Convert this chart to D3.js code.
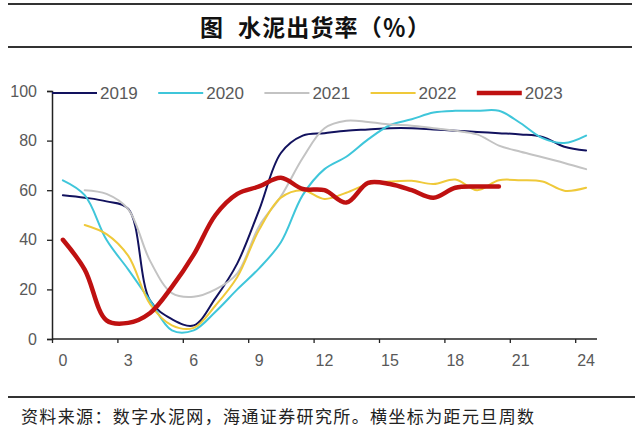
<!DOCTYPE html>
<html>
<head>
<meta charset="utf-8">
<script src="https://cdn.jsdelivr.net/npm/d3@7"></script>
<style>
  html, body { margin: 0; padding: 0; background: #fff; }
  svg { display: block; }
</style>
</head>
<body>
<svg id="chart" width="640" height="430"></svg>
<script>
// ---- data ----
const weeks = d3.range(0, 25);
const xTickLabels = [0, 3, 6, 9, 12, 15, 18, 21, 24];
const yTickLabels = [0, 20, 40, 60, 80, 100];
const seriesNames = ["2019", "2020", "2021", "2022", "2023"];
const s2019 = [58, 57, 55.5, 52.5, 15.5, 8, 5.5, 16.5, 30.5, 52, 75, 82, 83, 84, 84.5, 85, 85, 84.5, 84, 83.5, 83, 82.5, 81.5, 77.5, 76];
const s2020 = [64, 58, 40, 28, 15.5, 3.5, 3.5, 11, 20, 28.5, 39, 58, 68.5, 73.5, 80.5, 86.2, 88.6, 91.3, 92, 92, 92, 87, 81, 79, 82];
const s2021 = [null, 60, 58.5, 52.3, 31.5, 18.5, 17, 20, 26.5, 45.5, 57.5, 73, 85, 88, 87.5, 86.5, 86, 85, 84, 82.5, 78, 75.5, 73.3, 71, 68.5];
const s2022 = [null, 46, 42.3, 33.5, 14, 5.5, 4.5, 13.5, 25, 44, 57, 60, 56.5, 59, 62.5, 63.5, 63.8, 62.5, 64.3, 60, 64, 64, 63.5, 59.8, 61];
const s2023 = [40, 28, 7.5, 6.5, 10.5, 21, 34, 50, 58.5, 61.5, 65, 60.5, 60, 55, 63, 62.5, 60, 57, 61, 61.5, 61.5, null, null, null, null];
const seriesValues = [s2019, s2020, s2021, s2022, s2023];
const seriesColors = ["#12125e", "#3fc6da", "#c3c3c3", "#efc93a", "#bf1111"];
const seriesWidths = [2, 2, 2, 2, 4.5];
const titleMain = "水泥出货率（％）";
const titlePrefix = "图";
const footnote = "资料来源：数字水泥网，海通证券研究所。横坐标为距元旦周数";

// ---- layout ----
const svg = d3.select("#chart");
const plotLeft = 52, plotRight = 597, plotTop = 91, plotBottom = 339;

const x = d3.scaleLinear().domain([-0.5, 24.5]).range([plotLeft, plotRight]);
const y = d3.scaleLinear().domain([0, 100]).range([plotBottom, plotTop]);

// title rules + title
svg.append("line").attr("x1", 8).attr("x2", 632).attr("y1", 4).attr("y2", 4)
  .attr("stroke", "#333").attr("stroke-width", 2);
svg.append("line").attr("x1", 8).attr("x2", 632).attr("y1", 47).attr("y2", 47)
  .attr("stroke", "#333").attr("stroke-width", 2);
svg.append("text").attr("x", 200).attr("y", 26).attr("dominant-baseline", "central")
  .attr("font-family", "Noto Sans CJK SC").attr("font-weight", "bold").attr("font-size", 23)
  .attr("fill", "#111").text(titlePrefix);
svg.append("text").attr("x", 238).attr("y", 26).attr("dominant-baseline", "central")
  .attr("font-family", "Noto Sans CJK SC").attr("font-weight", "bold").attr("font-size", 23)
  .attr("fill", "#111").attr("textLength", 192).attr("lengthAdjust", "spacing").text(titleMain);

// y axis
const yAxis = d3.axisLeft(y).tickValues(yTickLabels).tickSize(5).tickPadding(10);
const gy = svg.append("g").attr("transform", `translate(${plotLeft},0)`).call(yAxis);
gy.select(".domain").attr("stroke", "#222").attr("stroke-width", 1.5);
gy.selectAll(".tick line").attr("stroke", "#222").attr("stroke-width", 1.3);
gy.selectAll(".tick text").attr("font-family", "Liberation Sans, Arial, sans-serif")
  .attr("font-size", 16).attr("fill", "#595959");

// x axis (category style: ticks at boundaries, labels at category centres)
const gx = svg.append("g").attr("transform", `translate(0,${plotBottom})`);
gx.append("line").attr("x1", plotLeft).attr("x2", plotRight).attr("y1", 0).attr("y2", 0)
  .attr("stroke", "#222").attr("stroke-width", 1.5);
const xAxis = d3.axisBottom(x).tickValues(xTickLabels.map(d => d - 0.5)).tickSize(4).tickFormat("");
const gxt = gx.append("g").call(xAxis);
gxt.select(".domain").remove();
gxt.selectAll(".tick line").attr("stroke", "#222").attr("stroke-width", 1.3);
gx.selectAll("text.xl").data(xTickLabels).enter().append("text")
  .attr("class", "xl").attr("x", d => x(d)).attr("y", 21)
  .attr("text-anchor", "middle").attr("dominant-baseline", "central")
  .attr("font-family", "Liberation Sans, Arial, sans-serif").attr("font-size", 16)
  .attr("fill", "#595959").text(d => d);

// lines
const line = d3.line()
  .defined(d => d.v !== null)
  .x(d => x(d.w)).y(d => y(d.v))
  .curve(d3.curveCatmullRom.alpha(0.5));

seriesValues.forEach((vals, i) => {
  const pts = weeks.map(w => ({ w, v: vals[w] }));
  svg.append("path").datum(pts)
    .attr("fill", "none").attr("stroke", seriesColors[i])
    .attr("stroke-width", seriesWidths[i]).attr("stroke-linecap", "round")
    .attr("stroke-linejoin", "round").attr("d", line);
});

// legend
const legY = 93;
seriesNames.forEach((name, i) => {
  const lx = 52 + i * 106.2;
  svg.append("line").attr("x1", lx).attr("x2", lx + 45).attr("y1", legY).attr("y2", legY)
    .attr("stroke", seriesColors[i]).attr("stroke-width", seriesWidths[i]);
  svg.append("text").attr("x", lx + 48).attr("y", legY).attr("dominant-baseline", "central")
    .attr("font-family", "Liberation Sans, Arial, sans-serif").attr("font-size", 17)
    .attr("fill", "#595959").text(name);
});

// footer
svg.append("line").attr("x1", 8).attr("x2", 635).attr("y1", 397).attr("y2", 397)
  .attr("stroke", "#333").attr("stroke-width", 2);
svg.append("text").attr("x", 21).attr("y", 415).attr("dominant-baseline", "central")
  .attr("font-family", "Noto Sans CJK SC").attr("font-size", 17)
  .attr("fill", "#222").attr("textLength", 513).attr("lengthAdjust", "spacing").text(footnote);
</script>
</body>
</html>
